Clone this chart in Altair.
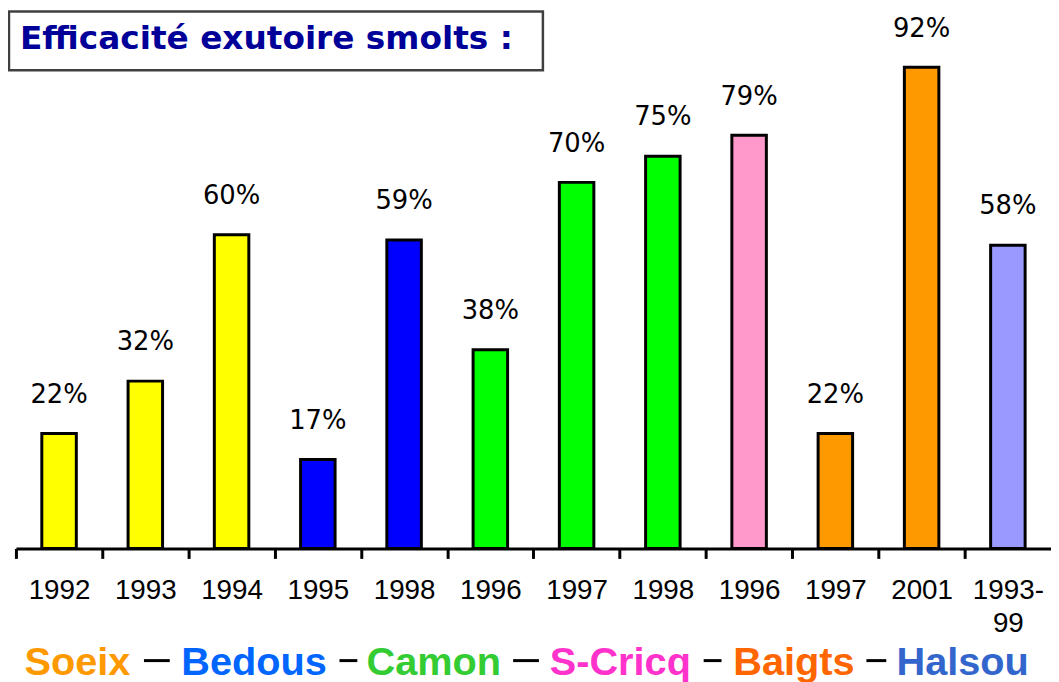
import json
import altair as alt
import pandas as pd

# ---- data ----
year_labels = ["1992", "1993", "1994", "1995", "1998", "1996", "1997", "1998",
               "1996", "1997", "2001", "1993-99"]
sites = ["Soeix", "Soeix", "Soeix", "Bedous", "Bedous", "Camon", "Camon", "Camon",
         "S-Cricq", "Baigts", "Baigts", "Halsou"]
efficiency = [22, 32, 60, 17, 59, 38, 70, 75, 79, 22, 92, 58]

site_names = ["Soeix", "Bedous", "Camon", "S-Cricq", "Baigts", "Halsou"]
bar_colors = ["#FFFF00", "#0000FF", "#00FF00", "#FF99CC", "#FF9900", "#9999FF"]
legend_colors = ["#FF9900", "#0066FF", "#33CC33", "#FF33CC", "#FF6600", "#3366CC"]

title_text = "Efficacité exutoire smolts :"

# ---- styles / positions (plot-area pixels) ----
PLOT_W = 1043
PLOT_H = 527
STEP = PLOT_W / len(efficiency)
legend_x = [62, 240, 421, 609, 784, 954]
legend_y = 654
dash_x = [(129, 155), (326, 344), (501, 527), (693, 711), (857, 877)]
dash_y = 640

bar_color_of = dict(zip(site_names, bar_colors))
df = pd.DataFrame({
    "idx": list(range(len(efficiency))),
    "value": efficiency,
    "site": sites,
    "fill": [bar_color_of[s] for s in sites],
    "label": [f"{v}%" for v in efficiency],
})

label_expr = json.dumps([[y] if "-" not in y else [y.split("-")[0] + "-", y.split("-")[1]]
                         for y in year_labels]) + "[datum.value]"

x_enc = alt.X(
    "idx:O",
    scale=alt.Scale(paddingInner=0.6, paddingOuter=0.3),
    axis=alt.Axis(
        title=None, labelAngle=0, labelExpr=label_expr,
        labelFont="Liberation Sans", labelFontSize=28, labelColor="black",
        labelPadding=18, labelLineHeight=34,
        domainColor="black", domainWidth=3,
        tickColor="black", tickWidth=3, tickSize=10,
        tickOffset=-STEP / 2, labelOffset=STEP / 2,
        grid=False,
    ),
)
y_enc = alt.Y("value:Q", scale=alt.Scale(domain=[0, 100]), axis=None)

base = alt.Chart(df)
bars = base.mark_bar(stroke="black", strokeWidth=3).encode(
    x=x_enc, y=y_enc, color=alt.Color("fill:N", scale=None)
)
texts = base.mark_text(font="DejaVu Sans", fontSize=26, baseline="alphabetic",
                       dy=-31, color="black").encode(
    x="idx:O", y="value:Q", text="label:N"
)

one = pd.DataFrame({"k": [0]})
title_box = alt.Chart(one).mark_rect(fill="white", stroke="#404040", strokeWidth=2.5).encode(
    x=alt.value(-7), x2=alt.value(531), y=alt.value(-14), y2=alt.value(45)
)
title_mark = alt.Chart(one).mark_text(
    font="DejaVu Sans", fontWeight="bold", fontSize=33, color="#000099",
    align="left", baseline="alphabetic", text=title_text
).encode(x=alt.value(4), y=alt.value(24))

layers = [bars, texts, title_box, title_mark]
for name, col, lx in zip(site_names, legend_colors, legend_x):
    layers.append(
        alt.Chart(one).mark_text(
            font="Liberation Sans", fontWeight="bold", fontSize=40, color=col,
            align="center", baseline="alphabetic", text=name
        ).encode(x=alt.value(lx), y=alt.value(legend_y))
    )
for x1, x2 in dash_x:
    layers.append(
        alt.Chart(one).mark_rule(color="black", strokeWidth=3).encode(
            x=alt.value(x1), x2=alt.value(x2), y=alt.value(dash_y)
        )
    )

chart = alt.layer(*layers).properties(
    width=PLOT_W, height=PLOT_H,
    autosize=alt.AutoSizeParams(type="none"),
    padding={"left": 8, "top": 15, "right": 0, "bottom": 140},
    background="white",
).configure_view(stroke=None)

chart.save("out.html", embed_options={"renderer": "svg", "actions": False})
